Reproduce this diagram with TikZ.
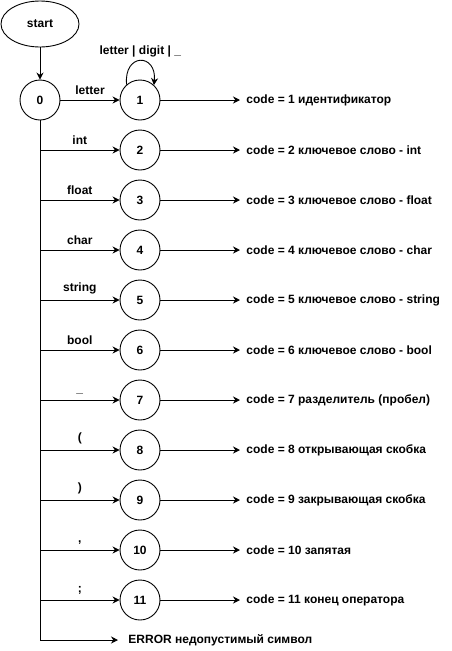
\documentclass[tikz,border=0pt]{standalone}
\usepackage{fontspec}
\setmainfont{Liberation Sans}
\usepackage{tikz}
\usetikzlibrary{arrows.meta,shapes.geometric}

\begin{document}
\begin{tikzpicture}[x=1pt,y=-1pt,line width=0.9pt,
    font=\fontsize{12}{14}\selectfont\bfseries,
    >={Stealth[length=7pt,width=7pt]},
    state/.style={draw,circle,minimum size=40pt,inner sep=0pt},
    codetext/.style={anchor=west,inner xsep=6pt,inner ysep=3pt}]
    \useasboundingbox (0,0) rectangle (451,651);
    \node[draw,ellipse,minimum width=78pt,minimum height=46pt] (start) at (40,24) {start};
    \node[state] (n0) at (40,100) {0};
    \node[state] (n1) at (140,100) {1};
    \node[state] (n2) at (140,150) {2};
    \node[state] (n3) at (140,200) {3};
    \node[state] (n4) at (140,250) {4};
    \node[state] (n5) at (140,300) {5};
    \node[state] (n6) at (140,350) {6};
    \node[state] (n7) at (140,400) {7};
    \node[state] (n8) at (140,450) {8};
    \node[state] (n9) at (140,500) {9};
    \node[state] (n10) at (140,550) {10};
    \node[state] (n11) at (140,600) {11};
    % what each final state returns
    \node[codetext] (c1) at (240,100) {code = 1 идентификатор};
    \node[codetext] (c2) at (240,150) {code = 2 ключевое слово - int};
    \node[codetext] (c3) at (240,200) {code = 3 ключевое слово - float};
    \node[codetext] (c4) at (240,250) {code = 4 ключевое слово - char};
    \node[codetext] (c5) at (240,300) {code = 5 ключевое слово - string};
    \node[codetext] (c6) at (240,350) {code = 6 ключевое слово - bool};
    \node[codetext] (c7) at (240,400) {code = 7 разделитель (пробел)};
    \node[codetext] (c8) at (240,450) {code = 8 открывающая скобка};
    \node[codetext] (c9) at (240,500) {code = 9 закрывающая скобка};
    \node[codetext] (c10) at (240,550) {code = 10 запятая};
    \node[codetext] (c11) at (240,600) {code = 11 конец оператора};
    \node[codetext,inner xsep=10pt] (err) at (118,640) {ERROR недопустимый символ};
    \draw[->] (start) -- (n0);
    \draw[->] (n0) -- (n0 |- err) -- (err);
    \draw[->] (n0) -- (n1) node[midway,above=2pt] {letter};
    \draw[->] (n1.131) .. controls +(-3,-32) and +(3,-32) .. (n1.47) node[midway,above] {letter | digit | \_};
    \draw[->] (n0 |- n2) -- (n2) node[midway,above=2pt] {int};
    \draw[->] (n0 |- n3) -- (n3) node[midway,above=2pt] {float};
    \draw[->] (n0 |- n4) -- (n4) node[midway,above=2pt] {char};
    \draw[->] (n0 |- n5) -- (n5) node[midway,above=2pt] {string};
    \draw[->] (n0 |- n6) -- (n6) node[midway,above=2pt] {bool};
    \draw[->] (n0 |- n7) -- (n7) node[midway,above=2pt] {\_};
    \draw[->] (n0 |- n8) -- (n8) node[midway,above=2pt] {(};
    \draw[->] (n0 |- n9) -- (n9) node[midway,above=2pt] {)};
    \draw[->] (n0 |- n10) -- (n10) node[midway,above=2pt] {,};
    \draw[->] (n0 |- n11) -- (n11) node[midway,above=2pt] {;};
    \draw[->] (n1) -- (c1);
    \draw[->] (n2) -- (c2);
    \draw[->] (n3) -- (c3);
    \draw[->] (n4) -- (c4);
    \draw[->] (n5) -- (c5);
    \draw[->] (n6) -- (c6);
    \draw[->] (n7) -- (c7);
    \draw[->] (n8) -- (c8);
    \draw[->] (n9) -- (c9);
    \draw[->] (n10) -- (c10);
    \draw[->] (n11) -- (c11);
\end{tikzpicture}
\end{document}
